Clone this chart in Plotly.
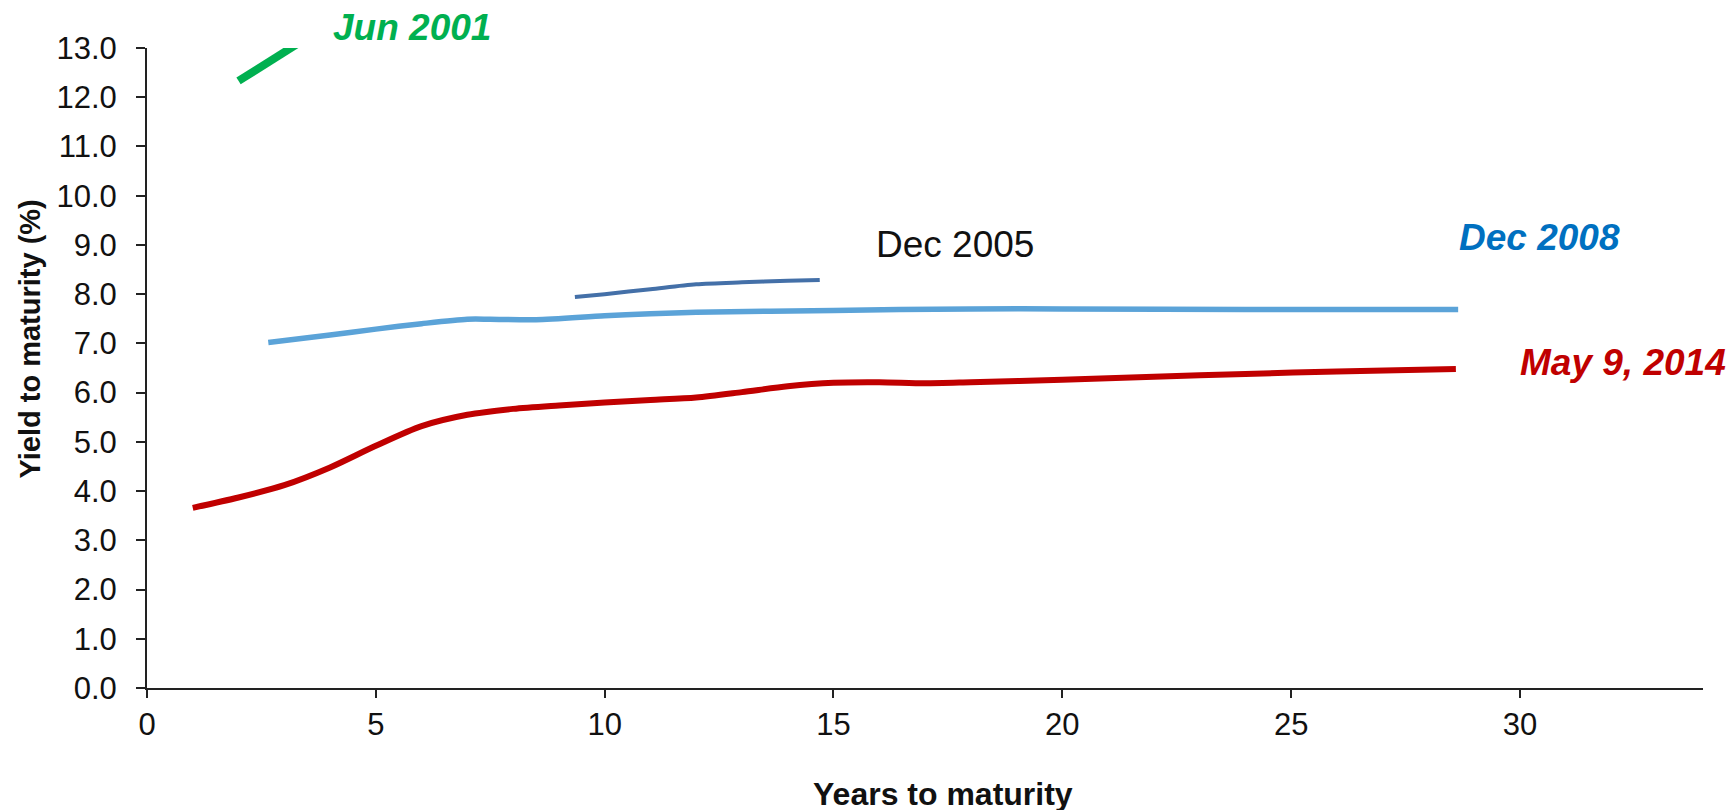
import plotly.graph_objects as go

# ---- data ----
may2014_x = [1.0, 2.0, 3.0, 4.0, 5.0, 6.0, 7.0, 8.0, 9.0, 10.0, 11.0, 12.0, 13.0, 14.0,
             15.0, 16.0, 17.0, 18.0, 20.0, 22.0, 24.0, 26.0, 28.6]
may2014_y = [3.66, 3.87, 4.12, 4.48, 4.92, 5.32, 5.55, 5.67, 5.74, 5.80, 5.85, 5.90, 6.01, 6.13,
             6.20, 6.21, 6.19, 6.21, 6.26, 6.32, 6.38, 6.43, 6.48]

dec2008_x = [2.65, 4.0, 5.0, 6.0, 7.0, 7.5, 8.5, 10.0, 11.0, 12.0, 15.0, 18.0, 20.0, 24.0, 28.65]
dec2008_y = [7.02, 7.17, 7.29, 7.40, 7.49, 7.49, 7.48, 7.56, 7.60, 7.63, 7.67, 7.70, 7.70, 7.69, 7.69]

dec2005_x = [9.35, 10.0, 11.0, 12.0, 13.0, 14.0, 14.7]
dec2005_y = [7.94, 8.00, 8.10, 8.20, 8.24, 8.27, 8.29]

jun2001_x = [2.0, 3.4]
jun2001_y = [12.33, 13.15]

y_ticks = [i * 1.0 for i in range(14)]
y_tick_labels = [f"{v:.1f}" for v in y_ticks]
x_ticks = [0, 5, 10, 15, 20, 25, 30]

FONT = "Arial, 'Liberation Sans', sans-serif"

fig = go.Figure()
fig.add_trace(go.Scatter(x=may2014_x, y=may2014_y, mode="lines",
                         line=dict(color="#C00000", width=6, shape="spline", smoothing=0.8),
                         showlegend=False, hoverinfo="skip"))
fig.add_trace(go.Scatter(x=dec2008_x, y=dec2008_y, mode="lines",
                         line=dict(color="#5BA3D8", width=5.5, shape="spline", smoothing=0.8),
                         showlegend=False, hoverinfo="skip"))
fig.add_trace(go.Scatter(x=dec2005_x, y=dec2005_y, mode="lines",
                         line=dict(color="#4470A8", width=4, shape="spline", smoothing=0.8),
                         showlegend=False, hoverinfo="skip"))
fig.add_trace(go.Scatter(x=jun2001_x, y=jun2001_y, mode="lines",
                         line=dict(color="#00B050", width=8),
                         showlegend=False, hoverinfo="skip"))

fig.update_layout(
    width=1735, height=810,
    margin=dict(l=139, r=40, t=40, b=130),
    paper_bgcolor="white", plot_bgcolor="white",
    font=dict(family=FONT, color="#111111"),
    xaxis=dict(range=[0, 34], tickvals=x_ticks, showgrid=False, zeroline=False,
               showline=True, linecolor="#222222", linewidth=2,
               ticks="outside", ticklen=8, tickwidth=2, tickcolor="#222222",
               tickfont=dict(size=31, family=FONT, color="#111111"),
               ticklabelstandoff=0),
    yaxis=dict(range=[0, 13], tickvals=y_ticks, ticktext=y_tick_labels, showgrid=False,
               zeroline=False, showline=True, linecolor="#222222", linewidth=2,
               ticks="outside", ticklen=9, tickwidth=2, tickcolor="#222222",
               tickfont=dict(size=31, family=FONT, color="#111111"),
               ticklabelstandoff=13),
)

annotations = [
    dict(x=0.1703, y=1.0328, xref="paper", yref="paper", text="<b><i>Jun 2001</i></b>",
         font=dict(size=37, color="#00B050", family=FONT)),
    dict(x=17.66, y=9.0, xref="x", yref="y", text="Dec 2005",
         font=dict(size=37, color="#111111", family=FONT)),
    dict(x=30.43, y=9.16, xref="x", yref="y", text="<b><i>Dec 2008</i></b>",
         font=dict(size=37, color="#0070C0", family=FONT)),
    dict(x=32.26, y=6.62, xref="x", yref="y", text="<b><i>May 9, 2014</i></b>",
         font=dict(size=37, color="#C00000", family=FONT)),
    dict(x=0.5116, y=-0.166, xref="paper", yref="paper", text="<b>Years to maturity</b>",
         font=dict(size=32, color="#111111", family=FONT)),
    dict(x=-0.0752, y=0.546, xref="paper", yref="paper", text="<b>Yield to maturity (%)</b>",
         textangle=-90, font=dict(size=29, color="#111111", family=FONT)),
]
for a in annotations:
    a.update(showarrow=False, xanchor="center", yanchor="middle")
fig.update_layout(annotations=annotations)

fig.write_html("out.html")
